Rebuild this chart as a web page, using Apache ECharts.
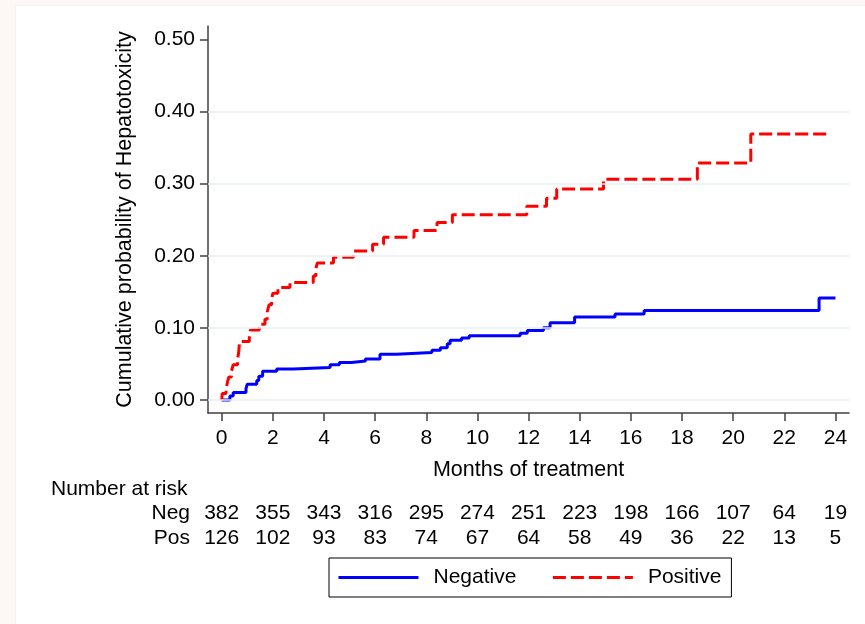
<!DOCTYPE html>
<html>
<head>
<meta charset="utf-8">
<script src="https://cdn.jsdelivr.net/npm/echarts@6/dist/echarts.min.js"></script>
<style>
  html, body { margin: 0; padding: 0; background: #fdf8f5; }
  #panel { position: absolute; left: 15px; top: 5px; width: 850px; height: 619px; background: #ffffff; border-left: 1px solid #f1f3f4; border-top: 1px solid #f1f3f4; box-sizing: border-box; }
  #c { position: absolute; left: 0; top: 0; width: 865px; height: 624px; }
</style>
</head>
<body>
<div id="panel"></div>
<div id="c"></div>
<script>
// ---- data ----
const xTicks = [0, 2, 4, 6, 8, 10, 12, 14, 16, 18, 20, 22, 24];
const yTicks = [0, 0.1, 0.2, 0.3, 0.4, 0.5];
const gridYs = [0, 0.1, 0.2, 0.3, 0.4];
const negAtRisk = [382, 355, 343, 316, 295, 274, 251, 223, 198, 166, 107, 64, 19];
const posAtRisk = [126, 102, 93, 83, 74, 67, 64, 58, 49, 36, 22, 13, 5];

const negTimes = [0, 0.32, 0.45, 0.95, 1.0, 1.37, 1.45, 1.6, 2.15, 2.8, 4.24, 4.6, 5.08, 5.62, 6.19, 6.83, 8.22, 8.55, 8.82, 8.93, 9.38, 9.68, 11.67, 11.95, 12.58, 12.84, 13.8, 15.38, 16.52, 23.36, 24.0];
const negProbs = [0, 0.0055, 0.0105, 0.016, 0.022, 0.027, 0.033, 0.040, 0.043, 0.045, 0.049, 0.052, 0.054, 0.057, 0.0635, 0.066, 0.069, 0.0725, 0.078, 0.083, 0.086, 0.089, 0.0925, 0.0965, 0.1003, 0.107, 0.115, 0.1192, 0.124, 0.1414, 0.1414];

const posTimes = [0, 0.02, 0.17, 0.22, 0.28, 0.38, 0.45, 0.62, 0.66, 0.7, 1.08, 1.12, 1.47, 1.69, 1.78, 1.85, 1.95, 2.0, 2.2, 2.67, 3.58, 3.68, 3.74, 4.37, 5.15, 5.9, 6.33, 7.52, 8.42, 9.02, 11.93, 12.7, 13.1, 14.93, 18.6, 20.69, 23.8];
const posProbs = [0, 0.009, 0.015, 0.024, 0.032, 0.040, 0.049, 0.057, 0.065, 0.081, 0.090, 0.097, 0.105, 0.112, 0.122, 0.132, 0.140, 0.148, 0.156, 0.163, 0.172, 0.182, 0.190, 0.198, 0.2065, 0.216, 0.2255, 0.235, 0.246, 0.257, 0.2685, 0.2796, 0.2925, 0.306, 0.3285, 0.3687, 0.3687];

const seriesNames = ['Negative', 'Positive'];
const xTitle = 'Months of treatment';
const yTitle = 'Cumulative probability of Hepatotoxicity';
const riskTitle = 'Number at risk';
const rowNames = ['Neg', 'Pos'];

// ---- chart ----
const FONT = "'Liberation Sans', Arial, Helvetica, sans-serif";
const zip = (a, b) => a.map((v, i) => [v, b[i]]);
const chart = echarts.init(document.getElementById('c'), null, { renderer: 'canvas' });

const riskAxis = (vals, name, offset) => ({
  type: 'value', gridIndex: 0, position: 'bottom', offset: offset,
  min: -0.536, max: 24.53,
  axisLine: { show: false, onZero: false }, axisTick: { show: false }, splitLine: { show: false },
  axisLabel: {
    customValues: xTicks, margin: 0, verticalAlign: 'middle',
    fontFamily: FONT, fontSize: 21, color: '#000',
    formatter: v => { const i = xTicks.indexOf(Math.round(v)); return i >= 0 ? String(vals[i]) : ''; }
  },
  name: name, nameLocation: 'start', nameGap: 18,
  nameTextStyle: { fontFamily: FONT, fontSize: 21, color: '#000', verticalAlign: 'middle' }
});

chart.setOption({
  animation: false,
  backgroundColor: 'transparent',
  title: {
    text: riskTitle, left: 46, top: 474,
    textStyle: { fontFamily: FONT, fontSize: 21, fontWeight: 'normal', color: '#000' }
  },
  grid: { left: 208, right: 16, top: 26, bottom: 211, containLabel: false },
  legend: {
    data: seriesNames, left: 329, top: 558,
    padding: [9, 10, 9, 8], itemWidth: 80, itemHeight: 14, itemGap: 35,
    borderColor: '#000', borderWidth: 1, backgroundColor: '#fff',
    itemStyle: { opacity: 0 },
    lineStyle: { width: 3 },
    textStyle: { fontFamily: FONT, fontSize: 21, color: '#000', padding: [0, 0, 0, 10] }
  },
  xAxis: [
    {
      type: 'value', min: -0.536, max: 24.53,
      axisLine: { show: true, onZero: false, lineStyle: { color: '#404040', width: 1.5 } },
      axisTick: { show: true, customValues: xTicks, length: 8, lineStyle: { color: '#404040', width: 1.5 } },
      axisLabel: { customValues: xTicks, margin: 15, fontFamily: FONT, fontSize: 21, color: '#000' },
      splitLine: { show: false },
      name: xTitle, nameLocation: 'middle', nameGap: 46,
      nameTextStyle: { fontFamily: FONT, fontSize: 21.5, color: '#000' }
    },
    riskAxis(negAtRisk, rowNames[0], 100),
    riskAxis(posAtRisk, rowNames[1], 125.5)
  ],
  yAxis: {
    type: 'value', min: -0.018, max: 0.5185,
    axisLine: { show: true, onZero: false, lineStyle: { color: '#404040', width: 1.5 } },
    axisTick: { show: true, customValues: yTicks, length: 8, lineStyle: { color: '#404040', width: 1.5 } },
    axisLabel: { customValues: yTicks, margin: 13, fontFamily: FONT, fontSize: 21, color: '#000', formatter: v => v.toFixed(2) },
    splitLine: { show: false },
    name: yTitle, nameLocation: 'middle', nameGap: 72, nameRotate: 90,
    nameTextStyle: { fontFamily: FONT, fontSize: 21.5, color: '#000' }
  },
  series: [
    {
      name: 'grid', type: 'line', data: [], z: 1, silent: true,
      markLine: {
        silent: true, symbol: ['none', 'none'], label: { show: false },
        lineStyle: { color: '#e9eff2', width: 1.5, type: 'solid' },
        data: gridYs.map(v => ({ yAxis: v }))
      }
    },
    {
      name: seriesNames[0], type: 'line', step: 'end', data: zip(negTimes, negProbs),
      showSymbol: false, symbol: 'none', z: 3,
      lineStyle: { color: '#0000ff', width: 3, type: 'solid' },
      itemStyle: { color: '#0000ff' }
    },
    {
      name: seriesNames[1], type: 'line', step: 'end', data: zip(posTimes, posProbs),
      showSymbol: false, symbol: 'none', z: 3,
      lineStyle: { color: '#ff0000', width: 3, type: [13, 5] },
      itemStyle: { color: '#ff0000' }
    }
  ]
});
</script>
</body>
</html>
